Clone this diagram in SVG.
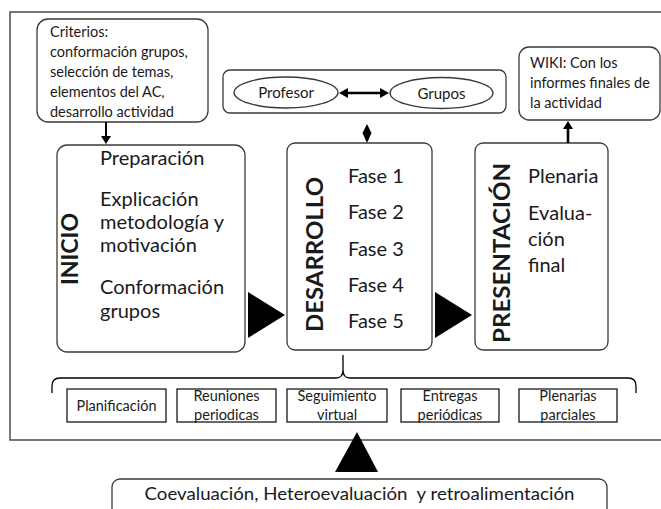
<svg xmlns="http://www.w3.org/2000/svg" width="661" height="509" viewBox="0 0 661 509">
<style>
  text { font-family: Lato, "Liberation Sans", sans-serif; fill: #1a1a1a; }
  .box { fill: #ffffff; stroke: #3a3a3a; stroke-width: 1.3; }
  .sq { fill: #ffffff; stroke: #1a1a1a; stroke-width: 1.3; }
  .frame { fill: none; stroke: #555555; stroke-width: 1.6; }
  .small { font-size: 14.5px; }
  .main { font-size: 20px; }
  .title { font-size: 22px; font-weight: bold; }
  .item { font-size: 14.5px; text-anchor: middle; }
  .conn { stroke: #000000; fill: none; }
  .tri { fill: #000000; }
</style>

<rect class="frame" x="10" y="12" width="720" height="428"/>

<g id="criterios">
  <rect class="box" x="37" y="19" width="171" height="103" rx="11"/>
  <text class="small" x="50" y="37">Criterios:</text>
  <text class="small" x="50" y="57">conformación grupos,</text>
  <text class="small" x="50" y="77">selección de temas,</text>
  <text class="small" x="50" y="97">elementos del AC,</text>
  <text class="small" x="50" y="117">desarrollo actividad</text>
</g>

<g id="actores">
  <rect class="box" x="223" y="70" width="283" height="43" rx="7"/>
  <g id="profesor">
    <ellipse class="box" cx="286" cy="92.5" rx="52" ry="15.5"/>
    <text x="286" y="98" style="font-size:15px;text-anchor:middle">Profesor</text>
  </g>
  <g id="grupos">
    <ellipse class="box" cx="441.5" cy="93" rx="51.5" ry="15.5"/>
    <text x="441.5" y="98.5" style="font-size:15px;text-anchor:middle">Grupos</text>
  </g>
</g>

<g id="wiki">
  <rect class="box" x="519" y="47" width="141" height="73" rx="10"/>
  <text class="small" x="530" y="68">WIKI: Con los</text>
  <text class="small" x="530" y="88">informes finales de</text>
  <text class="small" x="530" y="108">la actividad</text>
</g>

<g id="inicio">
  <rect class="box" x="57" y="145" width="188" height="207" rx="10"/>
  <text class="title" transform="translate(78,285) rotate(-90)" textLength="72" lengthAdjust="spacingAndGlyphs">INICIO</text>
  <text class="main" x="100" y="165">Preparación</text>
  <text class="main" x="100" y="206">Explicación</text>
  <text class="main" x="100" y="229">metodología y</text>
  <text class="main" x="100" y="252">motivación</text>
  <text class="main" x="100" y="294">Conformación</text>
  <text class="main" x="100" y="318">grupos</text>
</g>

<g id="desarrollo">
  <rect class="box" x="287" y="143" width="145" height="207" rx="8"/>
  <text class="title" transform="translate(323,332) rotate(-90)" textLength="155" lengthAdjust="spacingAndGlyphs">DESARROLLO</text>
  <text class="main" x="348" y="183">Fase 1</text>
  <text class="main" x="348" y="219">Fase 2</text>
  <text class="main" x="348" y="256">Fase 3</text>
  <text class="main" x="348" y="292">Fase 4</text>
  <text class="main" x="348" y="328">Fase 5</text>
</g>

<g id="presentacion">
  <rect class="box" x="475" y="143" width="133" height="207" rx="8"/>
  <text class="title" transform="translate(510,343) rotate(-90)" textLength="180" lengthAdjust="spacingAndGlyphs">PRESENTACIÓN</text>
  <text class="main" x="528" y="183">Plenaria</text>
  <text class="main" x="528" y="220">Evalua-</text>
  <text class="main" x="528" y="246">ción</text>
  <text class="main" x="528" y="272">final</text>
</g>

<g id="actividades">
  <g id="planificacion">
    <rect class="sq" x="67" y="389" width="99" height="33"/>
    <text class="item" x="116.5" y="411">Planificación</text>
  </g>
  <g id="reuniones">
    <rect class="sq" x="177" y="389" width="99" height="33"/>
    <text class="item" x="226.5" y="401">Reuniones</text>
    <text class="item" x="226.5" y="420">periodicas</text>
  </g>
  <g id="seguimiento">
    <rect class="sq" x="287" y="389" width="100" height="33"/>
    <text class="item" x="337" y="401">Seguimiento</text>
    <text class="item" x="337" y="420">virtual</text>
  </g>
  <g id="entregas">
    <rect class="sq" x="401" y="389" width="98" height="33"/>
    <text class="item" x="450" y="401">Entregas</text>
    <text class="item" x="450" y="420">periódicas</text>
  </g>
  <g id="plenarias">
    <rect class="sq" x="519" y="389" width="98" height="33"/>
    <text class="item" x="568" y="401">Plenarias</text>
    <text class="item" x="568" y="420">parciales</text>
  </g>
</g>

<g id="evaluacion">
  <rect class="box" x="112" y="479" width="495" height="45" rx="8"/>
  <text x="359.5" y="500" style="font-size:18px;text-anchor:middle" textLength="430" lengthAdjust="spacingAndGlyphs" xml:space="preserve">Coevaluación, Heteroevaluación  y retroalimentación</text>
</g>

<g id="connectors">
  <line class="conn" x1="106" y1="122" x2="106" y2="137" stroke-width="2"/>
  <polygon class="tri" points="101,136 111,136 106,144"/>
  <line class="conn" x1="346" y1="93" x2="382" y2="93" stroke-width="2.6"/>
  <polygon class="tri" points="339,93 348,88 348,98"/>
  <polygon class="tri" points="389,93 380,88 380,98"/>
  <polygon class="tri" points="367,124 371.5,133 367,143 362.5,133"/>
  <line class="conn" x1="568" y1="143" x2="568" y2="128" stroke-width="2.6"/>
  <polygon class="tri" points="568,121 563,129 573,129"/>
  <polygon class="tri" points="248,292 248,338 285,315"/>
  <polygon class="tri" points="435,292 435,338 472,315"/>
  <polygon class="tri" points="357,432 335,472 378,472"/>
  <path class="conn" stroke="#333333" stroke-width="1.3" d="M52,393 L52,386 Q52,378 60,378 L336,378 Q343,378 343,370 L343,355 M343,370 Q343,378 350,378 L628,378 Q636,378 636,386 L636,393"/>
</g>
</svg>
